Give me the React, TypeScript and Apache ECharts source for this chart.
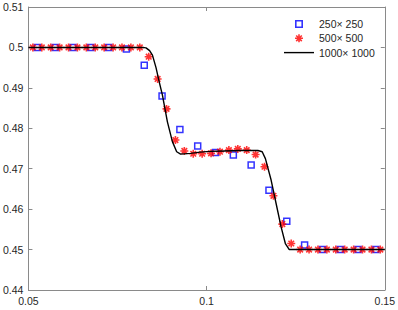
import React, { useEffect, useRef } from "react";
import * as echarts from "echarts";

const squareX = [0.0525, 0.0575, 0.0625, 0.0675, 0.0725, 0.0775, 0.0825, 0.0875, 0.0925, 0.0975, 0.1025, 0.1075, 0.1125, 0.1175, 0.1225, 0.1275, 0.1325, 0.1375, 0.1425, 0.1475];
const squareY = [0.5, 0.5, 0.5, 0.5, 0.5, 0.4996, 0.4956, 0.488, 0.4797, 0.4756, 0.474, 0.4734, 0.4709, 0.4647, 0.457, 0.4511, 0.45, 0.45, 0.45, 0.45];

const starX = [0.05125, 0.05375, 0.05625, 0.05875, 0.06125, 0.06375, 0.06625, 0.06875, 0.07125, 0.07375, 0.07625, 0.07875, 0.08125, 0.08375, 0.08625, 0.08875, 0.09125, 0.09375, 0.09625, 0.09875, 0.10125, 0.10375, 0.10625, 0.10875, 0.11125, 0.11375, 0.11625, 0.11875, 0.12125, 0.12375, 0.12625, 0.12875, 0.13125, 0.13375, 0.13625, 0.13875, 0.14125, 0.14375, 0.14625, 0.14875];
const starY = [0.5, 0.5, 0.5, 0.5, 0.5, 0.5, 0.5, 0.5, 0.5, 0.5, 0.5, 0.5, 0.5, 0.4977, 0.4922, 0.4848, 0.4771, 0.4744, 0.4737, 0.4737, 0.4738, 0.4742, 0.4746, 0.4749, 0.4746, 0.4735, 0.4705, 0.4633, 0.4563, 0.4515, 0.45, 0.45, 0.45, 0.45, 0.45, 0.45, 0.45, 0.45, 0.45, 0.45];

const lineX = [0.05, 0.082, 0.083, 0.084, 0.0848, 0.0858, 0.0867, 0.0876, 0.089, 0.0904, 0.0916, 0.0927, 0.0955, 0.0982, 0.101, 0.105, 0.1093, 0.1144, 0.1156, 0.1165, 0.1181, 0.1195, 0.1209, 0.1221, 0.1232, 0.15];
const lineY = [0.5, 0.5, 0.4999, 0.4992, 0.4981, 0.495, 0.4915, 0.4882, 0.4816, 0.4767, 0.4742, 0.4736, 0.4738, 0.4741, 0.4743, 0.4744, 0.4745, 0.4745, 0.4742, 0.4725, 0.4672, 0.4614, 0.4556, 0.4515, 0.45, 0.45];

const seriesNames = ["250\u00d7 250", "500\u00d7 500", "1000\u00d7 1000"];
const xTicks = { min: 0.05, max: 0.15, interval: 0.05 };
const yTicks = { min: 0.44, max: 0.51, interval: 0.01 };

const FONT = "'Liberation Sans', Arial, Helvetica, sans-serif";
const AXIS_COLOR = "#8a8a8a";
const TEXT_COLOR = "#262626";

const STAR_PATH =
  "path://M4,0h2v10h-2z M0,4h10v2h-10z M2.207,0.793L9.207,7.793L7.793,9.207L0.793,2.207z M9.207,2.207L2.207,9.207L0.793,7.793L7.793,0.793z";
const SQUARE_ICON = "path://M0,0h10v10h-10z M2,2v6h6v-6z";
const LINE_ICON = "path://M0,0h30v1.4h-30z";

function zip(xs: number[], ys: number[]) {
  return xs.map((x, i) => [x, ys[i]]);
}

export default function App() {
  const ref = useRef<HTMLDivElement>(null);
  useEffect(() => {
    if (!ref.current) return;
    const chart = echarts.init(ref.current, undefined, { renderer: "svg" });
    const axisCommon = {
      type: "value" as const,
      axisLine: { show: true, lineStyle: { color: AXIS_COLOR, width: 1 } },
      axisTick: { show: true, inside: true, length: 4, lineStyle: { color: AXIS_COLOR, width: 1 } },
      splitLine: { show: false },
    };
    chart.setOption({
      animation: false,
      backgroundColor: "#ffffff",
      grid: { left: 26, right: 11, top: 7, bottom: 20, containLabel: false },
      legend: {
        orient: "vertical",
        left: 284,
        top: 18.5,
        padding: 0,
        itemWidth: 30,
        itemHeight: 8,
        itemGap: 3.3,
        symbolKeepAspect: true,
        textStyle: { fontSize: 10.5, color: TEXT_COLOR, fontFamily: FONT },
        data: [
          { name: seriesNames[0], icon: SQUARE_ICON, itemStyle: { color: "#0000ff", borderWidth: 0 } },
          { name: seriesNames[1] },
          { name: seriesNames[2], icon: LINE_ICON, itemStyle: { color: "#000000", borderWidth: 0 } },
        ],
      },
      xAxis: [
        {
          ...axisCommon,
          position: "bottom",
          min: xTicks.min,
          max: xTicks.max,
          interval: xTicks.interval,
          axisLabel: { show: true, fontSize: 10.5, color: TEXT_COLOR, fontFamily: FONT, margin: 5 },
        },
        {
          ...axisCommon,
          position: "top",
          min: xTicks.min,
          max: xTicks.max,
          interval: xTicks.interval,
          axisLabel: { show: false },
        },
      ],
      yAxis: [
        {
          ...axisCommon,
          position: "left",
          min: yTicks.min,
          max: yTicks.max,
          interval: yTicks.interval,
          axisLabel: { show: true, fontSize: 10.5, color: TEXT_COLOR, fontFamily: FONT, margin: 5 },
        },
        {
          ...axisCommon,
          position: "right",
          min: yTicks.min,
          max: yTicks.max,
          interval: yTicks.interval,
          axisLabel: { show: false },
        },
      ],
      series: [
        {
          name: seriesNames[0],
          type: "scatter",
          symbol: "rect",
          symbolSize: 6,
          itemStyle: { color: "transparent", borderColor: "#0000ff", borderWidth: 1.5 },
          data: zip(squareX, squareY),
          z: 2,
        },
        {
          name: seriesNames[1],
          type: "scatter",
          symbol: STAR_PATH,
          symbolSize: 8,
          itemStyle: { color: "#ff0000" },
          data: zip(starX, starY),
          z: 3,
        },
        {
          name: seriesNames[2],
          type: "line",
          symbol: "none",
          itemStyle: { color: "#000000" },
          lineStyle: { color: "#000000", width: 1.4 },
          data: zip(lineX, lineY),
          z: 4,
        },
      ],
    });
    return () => chart.dispose();
  }, []);
  return (
    <div
      ref={ref}
      style={{ position: "fixed", left: 0, top: 0, width: 398, height: 310, background: "#fff" }}
    />
  );
}
